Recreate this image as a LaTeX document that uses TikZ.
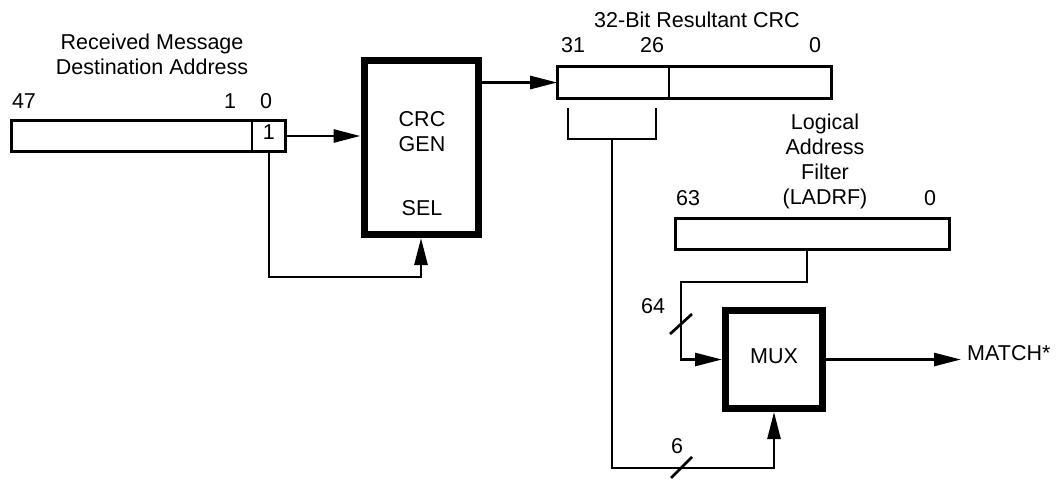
\documentclass[tikz,border=0pt]{standalone}
\usepackage{fontspec}
\setmainfont{Liberation Sans}
\usetikzlibrary{arrows.meta,calc}
\begin{document}
\begin{tikzpicture}[x=1pt,y=-1pt,
  txt/.style={font=\fontsize{21.5}{25}\selectfont, inner sep=0pt, align=center},
  num/.style={txt, text height=0.72em, text depth=0pt},
  reg/.style={draw, line width=2.7pt, inner sep=0pt, outer sep=0pt},
  blk/.style={draw, line width=7pt, inner sep=0pt},
  wire/.style={line width=2.7pt},
  arr/.style={wire, -{Triangle[length=27pt,width=13pt]}}]
\useasboundingbox (0,0) rectangle (1059,480);

% received address register
\node[txt] (rxlbl) at (152,54) {Received Message\\Destination Address};
\node[reg, minimum width=240.75pt, minimum height=31.5pt] (addr) at (131.6,136) {};
\node[reg, num, minimum width=33.75pt, minimum height=31.5pt] (bit0) at (268.9,136) {1};
\node[num] (l47) at (24,105) {47};
\node[num] (l1) at (230,105) {1};
\node[num] (l0) at (266,105) {0};

% CRC generator
\node[blk, minimum width=114pt, minimum height=174pt] (crc) at (421,147.5) {};
\node[txt] (crctxt) at (422,132) {CRC\\GEN};
\node[num] (sel) at (422,212) {SEL};

% 32-bit CRC register
\node[txt] (crclbl) at (697,20) {32-Bit Resultant CRC};
\node[reg, minimum width=111.75pt, minimum height=32.5pt] (crcA) at (613.1,82.5) {};
\node[reg, minimum width=162.75pt, minimum height=32.5pt] (crcB) at (750.4,82.5) {};
\node[num] (l31) at (573,49) {31};
\node[num] (l26) at (652,49) {26};
\node[num] (lc0) at (815,49) {0};

% LADRF register
\node[txt] (ladlbl) at (825,161) {Logical\\Address\\Filter\\(LADRF)};
\node[reg, minimum width=274.5pt, minimum height=31.5pt] (ladrf) at (812.5,234) {};
\node[num] (l63) at (688,202) {63};
\node[num] (ll0) at (930,202) {0};

% MUX
\node[blk, num, minimum width=97pt, minimum height=98pt] (mux) at (774,359.5) {MUX};
\node[num, anchor=west] (match) at (967,357) {MATCH*};

% connectors
\coordinate (selrow) at (0,277);
\draw[arr] (bit0.east) -- (crc.west |- bit0.east);
\draw[arr] (bit0.south) -- (bit0.south |- selrow) -- (crc.south |- selrow) -- (crc.south);
\draw[arr] (crc.east |- crcA.west) -- (crcA.west);

\coordinate (b1) at (568,108);
\coordinate (b2) at (656,108);
\coordinate (bm) at (612,139);
\coordinate (bot) at (0,468);
\draw[wire] (b1) -- (b1 |- bm) -- (b2 |- bm) -- (b2);
\draw[arr] (bm) -- (bm |- bot) -- (mux.south |- bot) -- (mux.south);

\coordinate (ls) at ($(ladrf.south)+(-5.5,0)$);
\coordinate (jog) at (681,282);
\draw[arr] (ls) |- (jog) |- (mux.west);

\draw[arr] (mux.east) -- (mux.east -| {$(match.west)+(-6,0)$});

% bus width marks
\draw[wire] (670,334) -- (692,314);
\node[num] (w64) at (653,310) {64};
\draw[wire] (671,478) -- (692,457);
\node[num] (w6) at (677,450) {6};
\end{tikzpicture}
\end{document}
